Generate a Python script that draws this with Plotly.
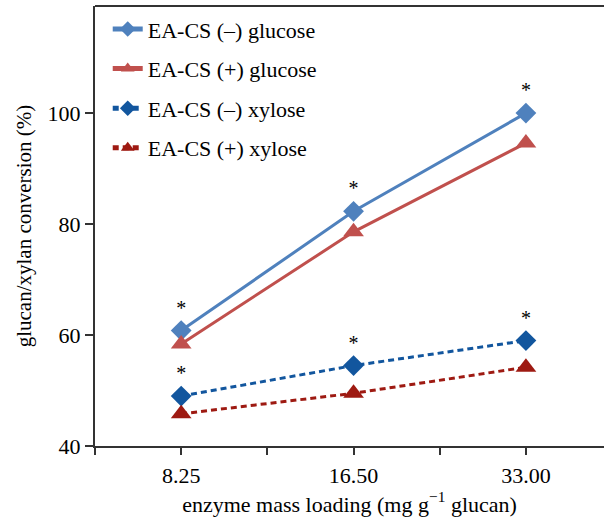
import plotly.graph_objects as go

categories = ["8.25", "16.50", "33.00"]
glucose_minus = [60.8, 82.3, 100.0]
glucose_plus = [58.4, 78.6, 94.6]
xylose_minus = [49.0, 54.5, 59.0]
xylose_plus = [45.8, 49.5, 54.2]
names = ["EA-CS (–) glucose", "EA-CS (+) glucose", "EA-CS (–) xylose", "EA-CS (+) xylose"]
y_ticks = [40, 60, 80, 100]

x = list(range(len(categories)))
FONT = "Liberation Serif"

fig = go.Figure()
specs = [
    (glucose_minus, "#4F81BD", "diamond", "solid", True),
    (glucose_plus, "#C0504D", "triangle-up", "solid", False),
    (xylose_minus, "#12569E", "diamond", "6px,4px", True),
    (xylose_plus, "#9E1A12", "triangle-up", "6px,4px", False),
]
for i, (vals, col, sym, dash, star) in enumerate(specs):
    fig.add_trace(go.Scatter(
        x=x, y=vals, name=names[i], legendgroup=str(i),
        mode="lines+markers+text" if star else "lines+markers",
        text=["*"] * len(vals) if star else None,
        textposition="top center",
        textfont=dict(family=FONT, size=20, color="black"),
        line=dict(color=col, width=3, dash=dash),
        marker=dict(symbol=sym, size=16 if sym == "diamond" else 18, color=col),
        cliponaxis=False,
    ))

tickvals = [-0.5, 0, 0.5, 1, 1.5, 2, 2.5]
ticktext = ["", categories[0], "", categories[1], "", categories[2], ""]

fig.update_layout(
    width=604, height=520,
    margin=dict(l=95, r=0, t=6, b=74),
    paper_bgcolor="white", plot_bgcolor="white",
    font=dict(family=FONT, size=21, color="black"),
    showlegend=True,
    legend=dict(x=0.025, y=0.995, xanchor="left", yanchor="top",
                bgcolor="rgba(0,0,0,0)", font=dict(family=FONT, size=22),
                tracegroupgap=8, traceorder="grouped", itemsizing="constant"),
    xaxis=dict(range=[-0.5, 2.453], tickmode="array", tickvals=tickvals, ticktext=ticktext,
               showgrid=False, zeroline=False, showline=True, linecolor="#333", linewidth=2,
               ticks="outside", ticklen=7, tickwidth=2, tickcolor="#333",
               tickfont=dict(family=FONT, size=22), ticklabelstandoff=2,
               title=dict(text="enzyme mass loading (mg g<sup>−1</sup> glucan)", standoff=0,
                          font=dict(family=FONT, size=22)),
               mirror=False),
    yaxis=dict(range=[40, 119.3], tickmode="array", tickvals=y_ticks,
               showgrid=False, zeroline=False, showline=True, linecolor="#333", linewidth=2,
               ticks="outside", ticklen=8, tickwidth=2, tickcolor="#333",
               tickfont=dict(family=FONT, size=22),
               title=dict(text="glucan/xylan conversion (%)", standoff=10,
                          font=dict(family=FONT, size=21))),
)
# top frame line
fig.add_shape(type="line", xref="paper", yref="paper", x0=0, x1=1, y0=1, y1=1,
              line=dict(color="#333", width=2))

fig.write_html("out.html")
